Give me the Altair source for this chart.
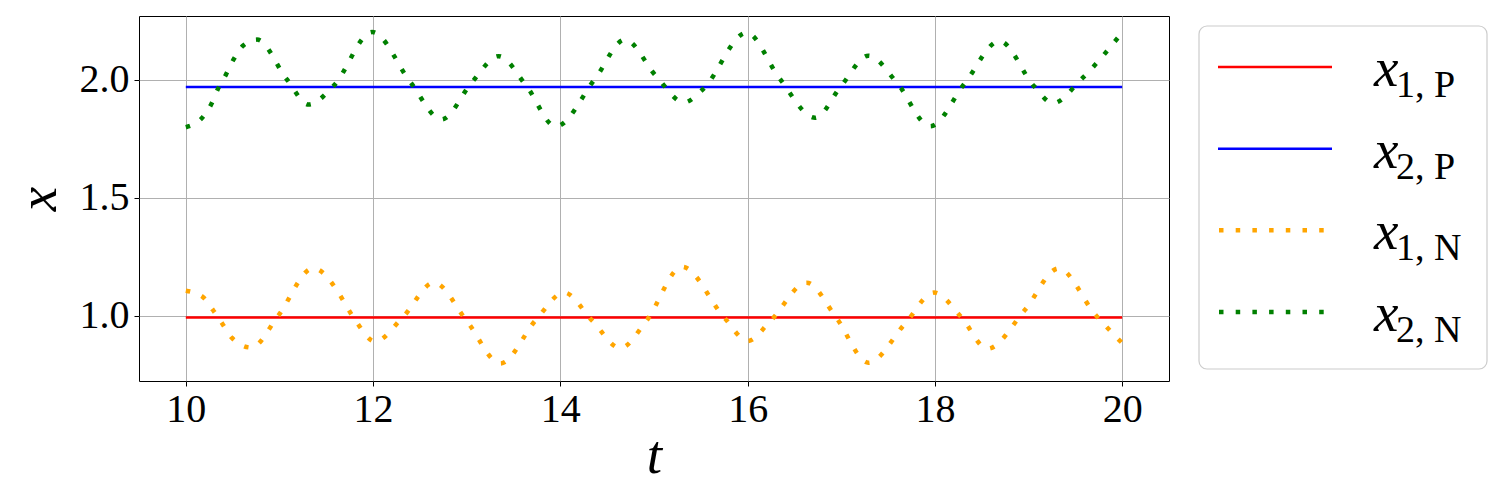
import altair as alt
import pandas as pd

# ---- data ----
T_P = [10.0, 20.0]
X1_P = [0.993, 0.993]
X2_P = [1.969, 1.969]

T_X1N = [10.00, 10.18, 10.29, 10.39, 10.49, 10.70, 10.98, 11.36, 11.63, 11.72,
         11.82, 12.02, 12.32, 12.65, 13.00, 13.36, 13.74, 14.04, 14.34, 14.64,
         14.92, 15.30, 15.75, 16.00, 16.25, 16.63, 16.94, 17.29, 17.68, 17.99,
         18.28, 18.56, 18.96, 19.32, 19.71, 20.00]
X1_N = [1.107, 1.081, 1.025, 0.967, 0.908, 0.866, 0.997, 1.202, 1.099, 1.038,
        0.976, 0.892, 0.996, 1.141, 0.979, 0.799, 0.984, 1.099, 0.980, 0.864,
        0.980, 1.208, 0.993, 0.894, 0.982, 1.141, 0.997, 0.802, 0.967, 1.099,
        0.996, 0.861, 1.025, 1.201, 1.007, 0.885]

T_X2N = [10.00, 10.17, 10.27, 10.34, 10.43, 10.51, 10.61, 10.76, 11.08, 11.31,
         11.58, 11.99, 12.40, 12.73, 13.06, 13.34, 13.64, 13.95, 14.37, 14.69,
         15.02, 15.32, 15.52, 15.99, 16.34, 16.72, 17.00, 17.29, 17.59, 17.95,
         18.32, 18.69, 19.06, 19.26, 19.56, 20.00]
X2_N = [1.799, 1.837, 1.895, 1.959, 2.023, 2.086, 2.144, 2.170, 2.001, 1.895,
        1.975, 2.202, 1.989, 1.832, 1.992, 2.100, 1.972, 1.802, 2.004, 2.170,
        2.017, 1.904, 1.959, 2.199, 2.006, 1.839, 1.975, 2.102, 1.990, 1.803,
        1.986, 2.164, 1.972, 1.901, 2.001, 2.200]

SERIES = ["x1P", "x2P", "x1N", "x2N"]
SUBS = ["1, P", "2, P", "1, N", "2, N"]
COLORS = ["#ff0000", "#0000ff", "#ffa500", "#008000"]
SOLID = ["x1P", "x2P"]
DOTTED = ["x1N", "x2N"]

X_TICKS = [10, 12, 14, 16, 18, 20]
Y_TICKS = [1.0, 1.5, 2.0]
X_DOMAIN = [9.5, 20.5]
Y_DOMAIN = [0.7246, 2.27]

FONT = "Liberation Serif, Times New Roman, DejaVu Serif, serif"

xscale = alt.Scale(domain=X_DOMAIN, nice=False, zero=False)
yscale = alt.Scale(domain=Y_DOMAIN, nice=False, zero=False)

common_axis = dict(
    grid=True, gridColor="#b0b0b0", gridWidth=1,
    domain=False, ticks=True, tickColor="black", tickSize=5, tickWidth=1,
    labelFont=FONT, labelFontSize=40, labelColor="black",
    titleFont=FONT, titleFontSize=55, titleFontStyle="italic",
    titleFontWeight="normal", titleColor="black",
)
xaxis = alt.Axis(values=X_TICKS, format="d", title="t", labelPadding=3,
                 titlePadding=0, **common_axis)
yaxis = alt.Axis(values=Y_TICKS, format=".1f", title="x", labelPadding=5,
                 titlePadding=12, **common_axis)


def series_line(t, v, color, width, dash=None):
    df = pd.DataFrame({"t": t, "v": v})
    kw = dict(color=color, strokeWidth=width, interpolate="monotone", clip=True)
    if dash is not None:
        kw["strokeDash"] = dash
    return alt.Chart(df).mark_line(**kw).encode(
        x=alt.X("t:Q", scale=xscale, axis=xaxis),
        y=alt.Y("v:Q", scale=yscale, axis=yaxis),
    )


DOT = [4.5, 12.2]
main = alt.layer(
    series_line(T_P, X1_P, COLORS[0], 2.5),
    series_line(T_P, X2_P, COLORS[1], 2.5),
    series_line(T_X1N, X1_N, COLORS[2], 4.5, DOT),
    series_line(T_X2N, X2_N, COLORS[3], 4.5, DOT),
).properties(
    width=1030, height=365,
    view=alt.ViewBackground(stroke="black", strokeWidth=1, fill="white"),
)

# ---- custom legend (mathtext-style labels with subscripts) ----
leg_df = pd.DataFrame({"series": SERIES, "sub": SUBS})
yl = alt.Y("series:N", axis=None,
           scale=alt.Scale(type="point", domain=SERIES, range=[51, 296], padding=0))
col = alt.Color("series:N", legend=None, scale=alt.Scale(domain=SERIES, range=COLORS))

leg_base = alt.Chart(leg_df)
leg_box = alt.Chart(pd.DataFrame({"k": [0]})).mark_rect(
    fill="white", stroke="#cccccc", strokeWidth=1.2, cornerRadius=8
).encode(x=alt.value(0), x2=alt.value(288), y=alt.value(10), y2=alt.value(353))
leg_solid = leg_base.transform_filter(
    alt.FieldOneOfPredicate(field="series", oneOf=SOLID)
).mark_rule(strokeWidth=2.5).encode(
    x=alt.value(19), x2=alt.value(133), y=yl, color=col
)
leg_dotted = leg_base.transform_filter(
    alt.FieldOneOfPredicate(field="series", oneOf=DOTTED)
).mark_rule(strokeWidth=4.5, strokeDash=DOT).encode(
    x=alt.value(20), x2=alt.value(133), y=yl, color=col
)
leg_x = leg_base.mark_text(
    text="x", font=FONT, fontSize=55, fontStyle="italic", align="left",
    baseline="alphabetic", dy=19, color="black"
).encode(x=alt.value(175), y=yl)
leg_sub = leg_base.mark_text(
    font=FONT, fontSize=38, align="left", baseline="alphabetic", dy=30, color="black"
).encode(x=alt.value(197), y=yl, text="sub:N")

legend = alt.layer(leg_box, leg_solid, leg_dotted, leg_x, leg_sub).properties(
    width=288, height=365,
    view=alt.ViewBackground(stroke=None, fill=None),
)

chart = alt.hconcat(main, legend, spacing=28).properties(
    padding={"left": 2, "top": 7, "right": 0, "bottom": 0},
    background="white",
).configure(font=FONT).configure_view(stroke=None)

chart.save("out.html", embed_options={"renderer": "svg", "actions": False})
